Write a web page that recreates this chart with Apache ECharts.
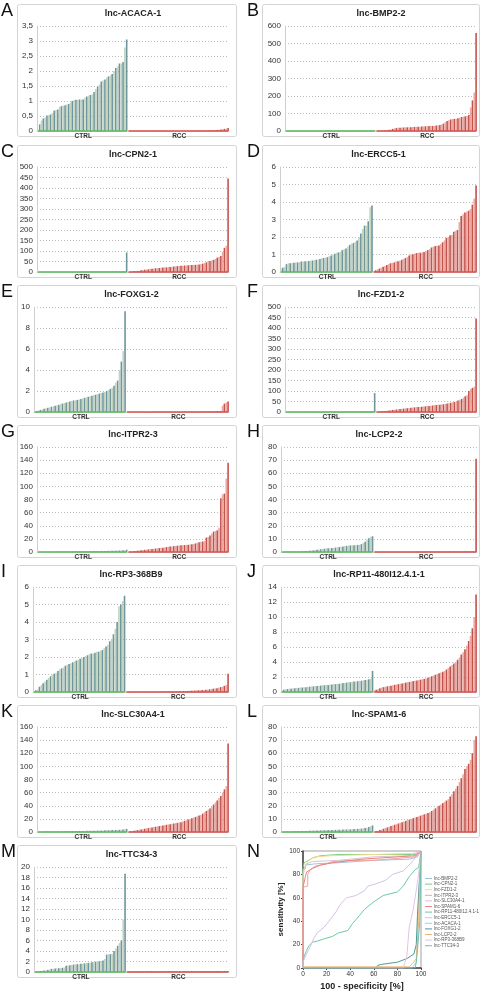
<!DOCTYPE html>
<html><head><meta charset="utf-8">
<script src="https://cdn.jsdelivr.net/npm/echarts@6/dist/echarts.min.js"></script>
<style>html,body{margin:0;padding:0;background:#fff}#c{width:483px;height:992px}</style>
</head><body><div id="c"></div>
<script>
// ---------------- DATA ----------------
const PANEL_LETTERS = ['A','B','C','D','E','F','G','H','I','J','K','L','M'];
const PANEL_TITLES = ['lnc-ACACA-1','lnc-BMP2-2','lnc-CPN2-1','lnc-ERCC5-1','lnc-FOXG1-2','lnc-FZD1-2','lnc-ITPR2-3','lnc-LCP2-2','lnc-RP3-368B9','lnc-RP11-480I12.4.1-1','lnc-SLC30A4-1','lnc-SPAM1-6','lnc-TTC34-3'];
const GROUP_LABELS = ['CTRL','RCC'];
const Y_MAX  = [3.5,600,500,6,10,500,160,80,6,14,160,80,20];
const Y_STEP = [0.5,100,50,1,2,50,20,10,1,2,20,10,2];

const ACACA_CTRL = [0.02,0.22,0.35,0.42,0.45,0.52,0.53,0.55,0.6,0.68,0.7,0.72,0.8,0.83,0.85,0.86,0.88,0.9,0.95,1.0,1.03,1.04,1.04,1.05,1.05,1.05,1.12,1.15,1.18,1.2,1.22,1.3,1.4,1.48,1.55,1.65,1.68,1.72,1.78,1.82,1.85,1.9,2.0,2.1,2.15,2.25,2.25,2.3,2.78,3.05];
const ACACA_RCC = [0.005,0.005,0.005,0.005,0.005,0.005,0.005,0.005,0.005,0.005,0.006,0.006,0.006,0.006,0.006,0.007,0.007,0.007,0.007,0.007,0.008,0.008,0.008,0.008,0.008,0.009,0.009,0.009,0.009,0.01,0.01,0.01,0.01,0.011,0.011,0.012,0.012,0.013,0.013,0.014,0.015,0.016,0.017,0.018,0.02,0.022,0.025,0.028,0.03,0.035,0.04,0.05,0.06,0.07,0.08,0.1];

const BMP2_CTRL = [0.5,0.6,0.7,0.8,0.9,1,1,1.1,1.1,1.2,1.2,1.3,1.3,1.4,1.4,1.5,1.5,1.6,1.6,1.7,1.7,1.8,1.8,1.9,1.9,2,2,2.1,2.1,2.2,2.2,2.3,2.3,2.4,2.4,2.5,2.5,2.6,2.6,2.7,2.7,2.8,2.8,2.9,2.9,3,3.1,3.2,3.4,3.6];
const BMP2_RCC = [0.5,1,1.5,2,3,4,5,7,9,12,15,17,19,19,20,20,21,21,22,22,23,24,24,25,25,26,26,27,27,28,28,29,30,31,33,35,38,42,50,57,62,66,68,69,70,73,76,80,82,84,86,92,135,175,220,560];

const CPN2_CTRL = [0.4,0.5,0.6,0.7,0.8,0.9,1,1,1.1,1.1,1.2,1.2,1.3,1.3,1.4,1.4,1.5,1.5,1.6,1.6,1.7,1.7,1.8,1.8,1.9,1.9,2,2,2.1,2.1,2.2,2.2,2.3,2.3,2.4,2.4,2.5,2.5,2.6,2.7,2.8,2.9,3,3.1,3.2,3.4,3.6,4,5,93];
const CPN2_RCC = [0.5,1,2,3,4,5,6,8,10,11,12,13,15,16,17,18,18,19,20,21,22,22,23,24,25,26,27,28,29,30,30,31,31,32,33,33,34,34,35,36,38,40,42,46,50,52,55,58,62,68,72,76,95,115,125,445];

const ERCC5_CTRL = [0.2,0.25,0.3,0.45,0.5,0.5,0.52,0.53,0.55,0.55,0.57,0.6,0.6,0.62,0.62,0.63,0.65,0.66,0.68,0.7,0.72,0.75,0.8,0.8,0.82,0.85,0.9,0.95,1.0,1.05,1.1,1.12,1.15,1.25,1.3,1.35,1.45,1.55,1.62,1.65,1.72,1.8,2.0,2.2,2.45,2.65,2.65,2.9,3.7,3.8];
const ERCC5_RCC = [0.05,0.1,0.15,0.2,0.25,0.3,0.35,0.4,0.45,0.5,0.52,0.55,0.6,0.62,0.65,0.7,0.75,0.8,0.85,0.95,1.0,1.02,1.05,1.08,1.1,1.1,1.12,1.15,1.2,1.25,1.3,1.4,1.45,1.48,1.5,1.52,1.6,1.7,1.8,1.95,2.0,2.1,2.12,2.3,2.35,2.4,2.85,3.2,3.3,3.4,3.45,3.5,3.6,3.85,4.2,4.95];

const FOXG1_CTRL = [0.05,0.1,0.15,0.2,0.25,0.3,0.35,0.4,0.45,0.5,0.55,0.6,0.65,0.7,0.75,0.8,0.85,0.9,0.95,1.0,1.05,1.1,1.1,1.15,1.2,1.25,1.3,1.35,1.4,1.45,1.5,1.55,1.6,1.65,1.7,1.75,1.8,1.85,1.9,2.0,2.1,2.2,2.3,2.5,2.8,3.0,4.0,4.8,5.8,9.6];
const FOXG1_RCC = [0.01,0.01,0.01,0.01,0.01,0.01,0.01,0.01,0.01,0.01,0.01,0.01,0.01,0.01,0.01,0.02,0.02,0.02,0.02,0.02,0.02,0.02,0.02,0.02,0.02,0.02,0.02,0.02,0.02,0.02,0.03,0.03,0.03,0.03,0.03,0.03,0.03,0.03,0.03,0.03,0.04,0.04,0.04,0.04,0.05,0.05,0.05,0.06,0.06,0.07,0.08,0.1,0.6,0.8,0.9,1.0];

const FZD1_CTRL = [0.4,0.5,0.6,0.6,0.7,0.8,0.9,1,1,1.1,1.1,1.2,1.2,1.3,1.3,1.4,1.4,1.5,1.5,1.6,1.6,1.7,1.7,1.8,1.8,1.9,1.9,2,2,2.1,2.1,2.2,2.2,2.3,2.3,2.4,2.4,2.5,2.5,2.6,2.7,2.8,2.9,3,3.1,3.3,3.5,3.8,4.5,90];
const FZD1_RCC = [0.5,1,2,3,4,5,6,7,9,10,11,12,13,14,15,16,17,18,19,20,21,22,23,24,24,25,26,27,28,29,30,31,32,33,34,35,36,37,38,40,42,44,46,48,50,55,58,62,68,75,80,100,110,115,120,445];

const ITPR2_CTRL = [0.3,0.3,0.4,0.4,0.5,0.5,0.5,0.6,0.6,0.6,0.7,0.7,0.7,0.8,0.8,0.8,0.9,0.9,0.9,1,1,1,1.1,1.1,1.1,1.2,1.2,1.2,1.3,1.3,1.3,1.4,1.4,1.5,1.5,1.6,1.6,1.7,1.7,1.8,1.8,1.9,2,2,2.1,2.2,2.3,2.5,2.8,3.5];
const ITPR2_RCC = [0.3,0.5,0.8,1,1.5,2,2.3,2.6,3,3.3,3.6,4,4.3,4.6,5,5.3,5.6,6,6.3,6.6,7,7.5,8,8.2,8.5,9,9.3,9.6,10,10.2,10.4,10.6,10.8,11,11.5,12,12.5,13,14,15,15.5,16,16.5,22,23,25,28,31,32,33,37,82,88,89,112,136];

const LCP2_CTRL = [0.1,0.15,0.2,0.25,0.3,0.3,0.35,0.4,0.45,0.5,0.55,0.6,0.7,0.8,0.9,1.0,1.1,1.3,1.5,1.7,1.9,2.1,2.3,2.5,2.7,2.8,2.9,3.0,3.2,3.4,3.6,3.8,4.0,4.2,4.5,4.7,4.9,5.0,5.1,5.2,5.3,5.4,5.5,6.0,7.0,7.8,9.5,10.5,11.5,12];
const LCP2_RCC = [0.2,0.2,0.2,0.2,0.2,0.2,0.2,0.2,0.2,0.2,0.2,0.2,0.2,0.2,0.2,0.2,0.2,0.2,0.2,0.2,0.3,0.3,0.3,0.3,0.3,0.3,0.3,0.3,0.3,0.3,0.3,0.3,0.3,0.3,0.3,0.3,0.3,0.3,0.3,0.3,0.4,0.4,0.4,0.4,0.4,0.4,0.4,0.4,0.4,0.4,0.5,0.5,0.5,0.5,0.6,71];

const RP3_CTRL = [0.05,0.1,0.15,0.3,0.4,0.5,0.6,0.7,0.8,0.9,1.0,1.05,1.1,1.2,1.3,1.35,1.4,1.5,1.55,1.6,1.65,1.7,1.75,1.8,1.85,1.9,1.95,2.0,2.05,2.1,2.15,2.2,2.2,2.25,2.3,2.3,2.35,2.4,2.5,2.6,2.7,2.9,3.0,3.3,3.6,4.0,4.9,5.0,5.2,5.5];
const RP3_RCC = [0.01,0.01,0.01,0.01,0.01,0.01,0.01,0.01,0.01,0.01,0.02,0.02,0.02,0.02,0.02,0.02,0.02,0.02,0.02,0.02,0.03,0.03,0.03,0.03,0.03,0.04,0.04,0.04,0.04,0.05,0.05,0.05,0.06,0.06,0.07,0.07,0.08,0.08,0.09,0.1,0.1,0.11,0.12,0.13,0.14,0.15,0.17,0.19,0.2,0.22,0.25,0.28,0.3,0.35,0.4,1.05];

const RP11_CTRL = [0.2,0.3,0.35,0.4,0.45,0.45,0.5,0.5,0.55,0.55,0.6,0.6,0.65,0.65,0.7,0.7,0.75,0.75,0.8,0.8,0.85,0.85,0.9,0.9,0.95,0.95,1.0,1.0,1.05,1.05,1.1,1.1,1.15,1.2,1.2,1.25,1.3,1.3,1.35,1.4,1.4,1.45,1.5,1.5,1.55,1.6,1.65,1.7,1.8,2.8];
const RP11_RCC = [0.2,0.3,0.4,0.5,0.6,0.65,0.7,0.75,0.8,0.85,0.9,0.95,1.0,1.05,1.1,1.15,1.2,1.25,1.3,1.35,1.4,1.45,1.5,1.55,1.6,1.65,1.7,1.75,1.8,1.9,2.0,2.1,2.2,2.3,2.4,2.5,2.6,2.7,2.8,3.0,3.2,3.4,3.6,3.8,4.0,4.3,4.6,5.0,5.3,5.7,6.2,6.8,7.5,8.5,10,13];

const SLC30A4_CTRL = [0.4,0.5,0.5,0.6,0.6,0.7,0.7,0.8,0.8,0.9,0.9,1,1,1.1,1.1,1.2,1.2,1.3,1.3,1.4,1.4,1.5,1.5,1.6,1.6,1.7,1.7,1.8,1.8,1.9,1.9,2,2,2.1,2.2,2.3,2.4,2.5,2.6,2.7,2.8,2.9,3,3.1,3.2,3.4,3.6,3.8,4.2,4.8];
const SLC30A4_RCC = [0.5,1,1.5,2,2.5,3,3.5,4,4.5,5,5.5,6,6.5,7,7.5,8,8.5,9,9.5,10,10.5,11,11.5,12,12.5,13,13.5,14,14.5,15,16,17,18,19,20,21,22,23,24,25,26,28,30,32,34,36,38,42,45,48,52,55,60,65,70,135];

const SPAM1_CTRL = [0.2,0.25,0.3,0.35,0.4,0.45,0.5,0.55,0.6,0.65,0.7,0.75,0.8,0.85,0.9,0.95,1,1.05,1.1,1.15,1.2,1.25,1.3,1.35,1.4,1.45,1.5,1.55,1.6,1.65,1.7,1.75,1.8,1.85,1.9,1.95,2,2.05,2.1,2.2,2.3,2.4,2.5,2.6,2.8,3,3.3,3.8,4.4,5];
const SPAM1_RCC = [0.3,0.6,1,1.5,2,2.5,3,3.5,4,4.5,5,5.5,6,6.5,7,7.5,8,8.5,9,9.5,10,10.5,11,11.5,12,12.5,13,13.5,14,14.5,15,16,17,18,19,20,21,22,23,24,25,27,29,31,33,35,38,41,44,48,50,52,55,60,70,73];

const TTC34_CTRL = [0.1,0.15,0.2,0.2,0.25,0.3,0.3,0.4,0.5,0.6,0.6,0.65,0.7,0.7,0.75,0.8,0.85,1.2,1.25,1.3,1.35,1.4,1.45,1.5,1.5,1.55,1.6,1.65,1.7,1.75,1.8,1.85,1.9,1.95,2.0,2.05,2.1,2.2,2.5,3.3,3.35,3.4,3.45,4.0,4.5,5.0,5.5,6.0,10,18.7];
const TTC34_RCC = [0.1,0.1,0.1,0.1,0.1,0.1,0.1,0.1,0.1,0.1,0.12,0.12,0.12,0.12,0.12,0.12,0.12,0.12,0.12,0.12,0.14,0.14,0.14,0.14,0.14,0.14,0.14,0.14,0.14,0.14,0.15,0.15,0.15,0.15,0.15,0.15,0.15,0.15,0.15,0.15,0.16,0.16,0.16,0.16,0.16,0.17,0.17,0.17,0.17,0.18,0.18,0.18,0.19,0.19,0.2,0.2];

const CTRL_DATA = [ACACA_CTRL,BMP2_CTRL,CPN2_CTRL,ERCC5_CTRL,FOXG1_CTRL,FZD1_CTRL,ITPR2_CTRL,LCP2_CTRL,RP3_CTRL,RP11_CTRL,SLC30A4_CTRL,SPAM1_CTRL,TTC34_CTRL];
const RCC_DATA  = [ACACA_RCC,BMP2_RCC,CPN2_RCC,ERCC5_RCC,FOXG1_RCC,FZD1_RCC,ITPR2_RCC,LCP2_RCC,RP3_RCC,RP11_RCC,SLC30A4_RCC,SPAM1_RCC,TTC34_RCC];

// ROC curves: [100 - specificity, sensitivity]
const ROC_NAMES = ['lnc-BMP2-2','lnc-CPN2-1','lnc-FZD1-2','lnc-ITPR2-3','lnc-SLC30A4-1','lnc-SPAM1-6','lnc-RP11-480I12.4.1-1','lnc-ERCC5-1','lnc-ACACA-1','lnc-FOXG1-2','lnc-LCP2-2','lnc-RP3-368B9','lnc-TTC34-3'];
const ROC_BMP2 = [[0,0],[0,84],[2,85],[2,88],[10,89],[30,90],[45,91],[60,92],[90,93],[97,95],[100,100]];
const ROC_CPN2 = [[0,0],[0,86],[1,90],[3,91],[8,94],[15,96],[30,97],[95,97],[98,98],[100,100]];
const ROC_FZD1 = [[0,0],[0,80],[2,88],[5,92],[10,95],[25,96],[95,98],[100,100]];
const ROC_ITPR2 = [[0,0],[0,69],[4,70],[4,80],[6,84],[10,87],[20,89],[25,91],[40,92],[60,92],[95,95],[100,100]];
const ROC_SLC30A4 = [[0,0],[0,76],[1,85],[3,89],[8,91],[30,92],[60,95],[90,96],[100,100]];
const ROC_SPAM1 = [[0,0],[0,69],[2,78],[3,82],[8,85],[15,88],[25,90],[50,93],[95,96],[100,100]];
const ROC_RP11 = [[0,0],[0,5],[1,10],[3,15],[5,19],[8,22],[12,23],[18,25],[25,27],[30,30],[38,32],[42,38],[48,45],[52,50],[58,55],[62,58],[68,62],[72,63],[80,65],[85,70],[90,78],[95,84],[98,86],[100,100]];
const ROC_ERCC5 = [[0,0],[0,5],[3,12],[6,18],[9,25],[12,30],[18,35],[22,40],[28,48],[32,55],[37,60],[45,62],[52,66],[55,70],[62,72],[70,75],[76,80],[85,83],[90,88],[96,95],[100,100]];
const ROC_ACACA = [[0,0],[92,0],[94,2],[96,5],[97,30],[98,60],[100,100]];
const ROC_FOXG1 = [[0,0],[62,0],[63,2],[66,3],[80,5],[88,8],[94,12],[96,20],[97,45],[100,100]];
const ROC_LCP2 = [[0,1],[90,1],[93,4],[96,8],[98,40],[99,80],[100,100]];
const ROC_RP3 = [[0,0],[85,0],[88,10],[90,35],[93,48],[95,60],[98,80],[100,100]];
const ROC_TTC34 = [[0,0],[95,0],[96,5],[97,15],[99,40],[100,100]];
const ROC_DATA = [ROC_BMP2,ROC_CPN2,ROC_FZD1,ROC_ITPR2,ROC_SLC30A4,ROC_SPAM1,ROC_RP11,ROC_ERCC5,ROC_ACACA,ROC_FOXG1,ROC_LCP2,ROC_RP3,ROC_TTC34];
const ROC_TICKS = [0,20,40,60,80,100];

// ---------------- STYLE / LAYOUT ----------------
const ROC_COLORS = ['#9ec3d6','#7ccf7c','#f0dd90','#f0a39a','#d8c4d0','#ee8080','#6cc7a8','#d6c0e6','#b0cce0','#4d9a9a','#f3b870','#e8c0e8','#70c0b0'];
const FONT = '"Liberation Sans", Arial, sans-serif';
const ROW_TOP = [0,141,281,421,561,701,841];
const CTRL_LIGHT='#c5d3bd', CTRL_DARK='#6d979c', RCC_LIGHT='#eaa9a1', RCC_DARK='#c4524d';
const GREEN='#5cb85c', RED='#d9534f';

const chart = echarts.init(document.getElementById('c'), null, {renderer:'canvas', width:483, height:992});
const grids=[], xAxes=[], yAxes=[], series=[], graphics=[];
const fmt = v => String(v).replace('.', ',');

for (let i=0;i<13;i++){
  const col=i%2, row=Math.floor(i/2), rt=ROW_TOP[row];
  const ctrl=CTRL_DATA[i], rcc=RCC_DATA[i];
  const n1=ctrl.length, n2=rcc.length;
  const lblLen = fmt(Y_MAX[i]).length;
  const gl = col===0 ? ({1:33,2:34,3:37})[lblLen] : ({1:280,2:281,3:285})[lblLen];
  const gr = col===0 ? 229 : 477;
  const boxX = col===0 ? 17 : 262, boxW = col===0 ? 219 : 217;
  grids.push({left:gl, top:rt+26, width:gr-gl, height:105});
  const cats=[]; for(let k=0;k<n1+n2;k++) cats.push(String(k));
  const m1=Math.floor(n1/2), m2=n1+Math.floor(n2/2);
  xAxes.push({type:'category', gridIndex:i, data:cats, boundaryGap:true,
    axisTick:{show:false}, axisLine:{show:true, lineStyle:{color:'#cfcfcf', width:1}},
    axisLabel:{interval:0, margin:2, fontSize:6.5, fontWeight:'bold', color:'#333', fontFamily:FONT,
      formatter:(v,idx)=> idx===m1?GROUP_LABELS[0]:(idx===m2?GROUP_LABELS[1]:'')}});
  yAxes.push({type:'value', gridIndex:i, min:0, max:Y_MAX[i], interval:Y_STEP[i],
    axisLine:{show:true, lineStyle:{color:'#cfcfcf'}}, axisTick:{show:false},
    splitLine:{show:true, lineStyle:{color:'#bdbdbd', type:[1,2], width:1}},
    axisLabel:{fontSize:8, color:'#333', margin:4, fontFamily:FONT, formatter:fmt}});
  const data=[];
  ctrl.forEach((v,k)=>data.push({value:v, itemStyle:{color:(k%2? CTRL_DARK:CTRL_LIGHT)}}));
  rcc.forEach((v,k)=>data.push({value:v, itemStyle:{color:(k%2? RCC_DARK:RCC_LIGHT)}}));
  series.push({type:'bar', xAxisIndex:i, yAxisIndex:i, data, barCategoryGap:'12%', animation:false,
    markLine:{silent:true, symbol:['none','none'], label:{show:false}, animation:false,
      lineStyle:{width:1.6, type:'solid'},
      data:[[{coord:['0',0], lineStyle:{color:GREEN, width:1.6, type:'solid'}},{coord:[String(n1-1),0]}],
            [{coord:[String(n1),0], lineStyle:{color:RED, width:1.6, type:'solid'}},{coord:[String(n1+n2-1),0]}]]}});
  graphics.push({type:'rect', shape:{x:boxX+0.5, y:rt+4.5, width:boxW, height:132, r:2}, style:{fill:'none', stroke:'#d4d4d4', lineWidth:1}, z:-1});
  graphics.push({type:'text', x:(gl+gr)/2, y:rt+14, style:{text:PANEL_TITLES[i], font:'bold 9px '+FONT, fill:'#222', textAlign:'center', textVerticalAlign:'middle'}});
  graphics.push({type:'text', x: col===0?1:247, y:rt+2, style:{text:PANEL_LETTERS[i], font:'18px '+FONT, fill:'#111', textAlign:'left', textVerticalAlign:'top'}});
}

// ROC panel
const RG=13;
grids.push({left:303, top:851, width:118, height:118, show:true, borderColor:'#a0a0a0', borderWidth:1});
xAxes.push({type:'value', gridIndex:RG, min:0, max:100, interval:20,
  name:'100 - specificity [%]', nameLocation:'middle', nameGap:14,
  nameTextStyle:{fontSize:9, fontWeight:'bold', color:'#222', fontFamily:FONT},
  axisLine:{show:true, lineStyle:{color:'#444', width:1.5}}, axisTick:{show:true, length:2, lineStyle:{color:'#444'}},
  splitLine:{show:false}, axisLabel:{fontSize:6.5, color:'#333', margin:3, fontFamily:FONT}});
yAxes.push({type:'value', gridIndex:RG, min:0, max:100, interval:20,
  name:'sensitivity [%]', nameLocation:'middle', nameGap:16, nameRotate:90,
  nameTextStyle:{fontSize:8, fontWeight:'bold', color:'#222', fontFamily:FONT},
  axisLine:{show:true, lineStyle:{color:'#444', width:1.5}}, axisTick:{show:true, length:2, lineStyle:{color:'#444'}},
  splitLine:{show:false}, axisLabel:{fontSize:6.5, color:'#333', margin:3, fontFamily:FONT}});
ROC_NAMES.forEach((nm,k)=>{
  series.push({type:'line', name:nm, xAxisIndex:RG, yAxisIndex:RG, data:ROC_DATA[k], showSymbol:false, symbol:'none',
    lineStyle:{width:1, color:ROC_COLORS[k]}, itemStyle:{color:ROC_COLORS[k]}, animation:false});
});
graphics.push({type:'text', x:247, y:843, style:{text:'N', font:'18px '+FONT, fill:'#111', textAlign:'left', textVerticalAlign:'top'}});

chart.setOption({
  animation:false,
  grid:grids, xAxis:xAxes, yAxis:yAxes, series,
  legend:{data:ROC_NAMES, orient:'vertical', left:425, top:876, icon:'rect', itemWidth:7, itemHeight:1,
    itemGap:0.6, textStyle:{fontSize:4.5, lineHeight:4, color:'#555', fontFamily:FONT, padding:[0,0,0,-3]}, padding:0, selectedMode:false},
  graphic:graphics
});
</script></body></html>
